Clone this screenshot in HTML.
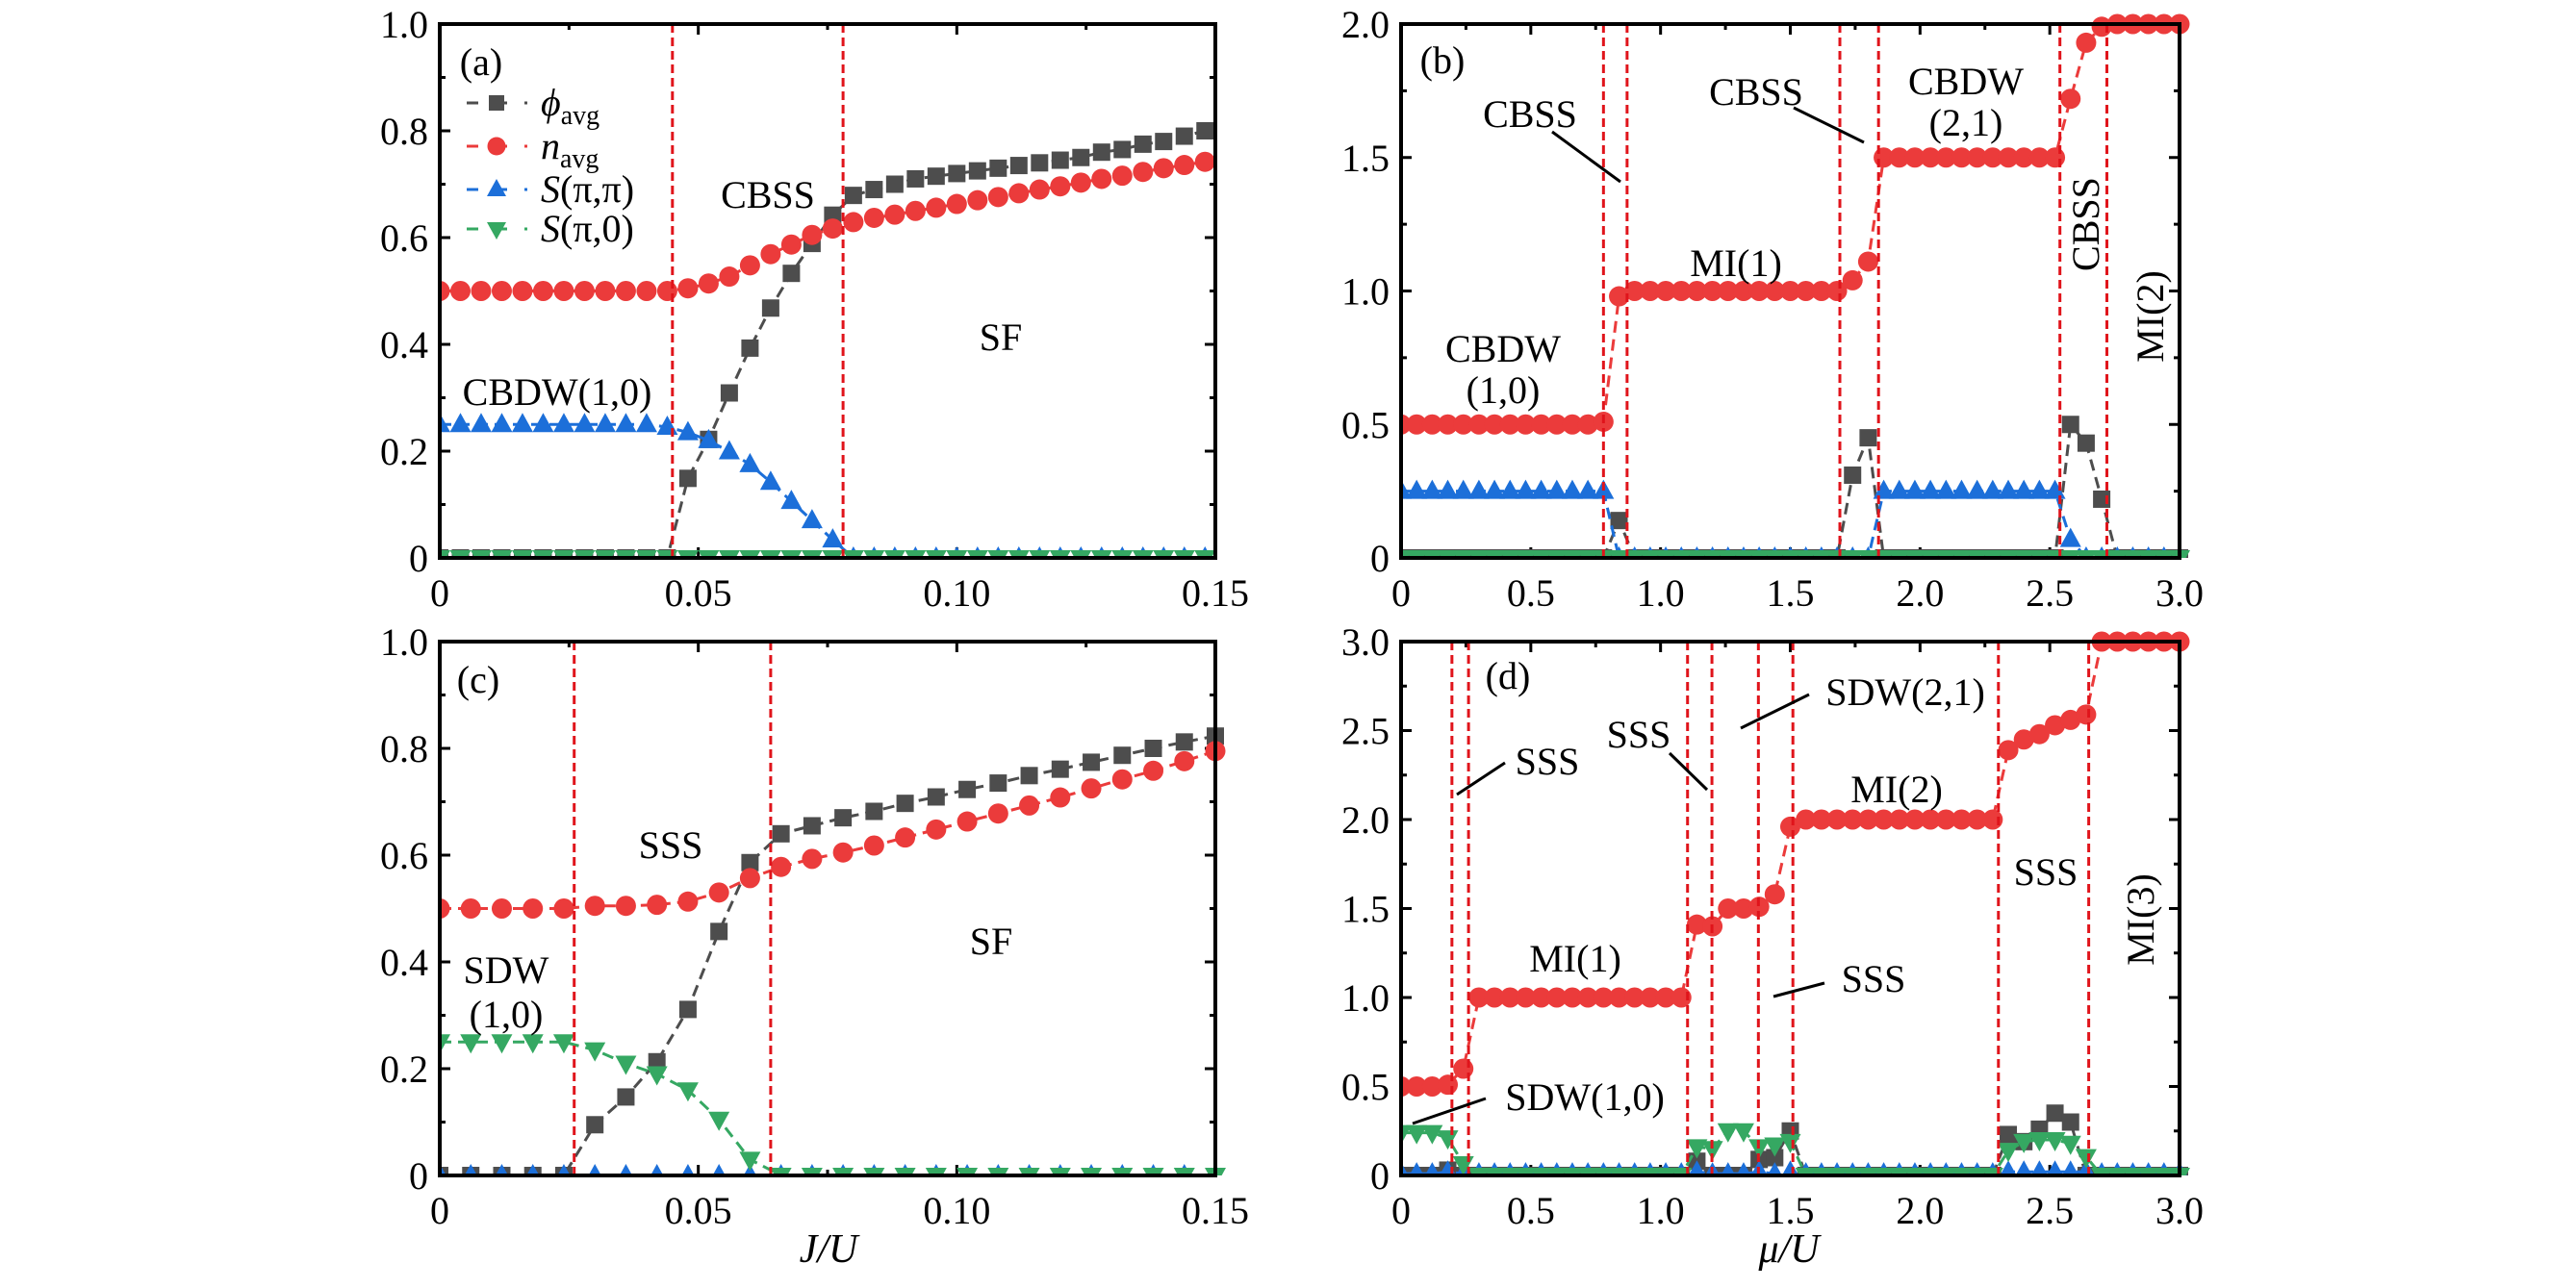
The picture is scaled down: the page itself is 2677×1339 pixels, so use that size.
<!DOCTYPE html>
<html><head><meta charset="utf-8"><style>
html,body{margin:0;padding:0;background:#fff;}
svg{display:block;font-family:"Liberation Serif",serif;}
text{font-family:"Liberation Serif",serif;}
</style></head><body>
<svg id="fig" width="2677" height="1339" viewBox="0 0 2677 1339" xmlns="http://www.w3.org/2000/svg" font-family="Liberation Serif, serif"></svg>
<script>
// ---------- Panel (a) data ----------
const xA = [0,0.004,0.008,0.012,0.016,0.020,0.024,0.028,0.032,0.036,0.040,0.044,0.048,0.052,0.056,0.060,0.064,0.068,0.072,0.076,0.080,0.084,0.088,0.092,0.096,0.100,0.104,0.108,0.112,0.116,0.120,0.124,0.128,0.132,0.136,0.140,0.144,0.148];
const phiA = [0,0,0,0,0,0,0,0,0,0,0,0,0.149,0.222,0.309,0.393,0.468,0.533,0.589,0.642,0.679,0.69,0.70,0.71,0.715,0.72,0.725,0.73,0.735,0.74,0.745,0.75,0.76,0.765,0.775,0.78,0.79,0.80];
const nA = [0.5,0.5,0.5,0.5,0.5,0.5,0.5,0.5,0.5,0.5,0.5,0.5,0.505,0.514,0.527,0.548,0.569,0.587,0.605,0.617,0.629,0.637,0.643,0.65,0.656,0.663,0.67,0.676,0.683,0.69,0.696,0.703,0.71,0.716,0.723,0.73,0.736,0.742];
const sppA = [0.25,0.25,0.25,0.25,0.25,0.25,0.25,0.25,0.25,0.25,0.25,0.245,0.235,0.22,0.199,0.175,0.142,0.106,0.07,0.034,0,0,0,0,0,0,0,0,0,0,0,0,0,0,0,0,0,0];
const sp0A = [0,0,0,0,0,0,0,0,0,0,0,0,0,0,0,0,0,0,0,0,0,0,0,0,0,0,0,0,0,0,0,0,0,0,0,0,0,0];
const linesA = [0.045,0.078];

// ---------- Panel (b) data ----------
const xB = [0,0.06,0.12,0.18,0.24,0.30,0.36,0.42,0.48,0.54,0.60,0.66,0.72,0.78,0.84,0.90,0.96,1.02,1.08,1.14,1.20,1.26,1.32,1.38,1.44,1.50,1.56,1.62,1.68,1.74,1.80,1.86,1.92,1.98,2.04,2.10,2.16,2.22,2.28,2.34,2.40,2.46,2.52,2.58,2.64,2.70,2.76,2.82,2.88,2.94,3.00];
const nB = [0.5,0.5,0.5,0.5,0.5,0.5,0.5,0.5,0.5,0.5,0.5,0.5,0.5,0.51,0.98,1,1,1,1,1,1,1,1,1,1,1,1,1,1,1.04,1.11,1.5,1.5,1.5,1.5,1.5,1.5,1.5,1.5,1.5,1.5,1.5,1.5,1.72,1.93,1.99,2,2,2,2,2];
const phiB = [0,0,0,0,0,0,0,0,0,0,0,0,0,0,0.14,0,0,0,0,0,0,0,0,0,0,0,0,0,0,0.31,0.45,0,0,0,0,0,0,0,0,0,0,0,0,0.50,0.43,0.22,0,0,0,0,0];
const sppB = [0.25,0.25,0.25,0.25,0.25,0.25,0.25,0.25,0.25,0.25,0.25,0.25,0.25,0.25,0,0,0,0,0,0,0,0,0,0,0,0,0,0,0,0,0,0.25,0.25,0.25,0.25,0.25,0.25,0.25,0.25,0.25,0.25,0.25,0.25,0.07,0,0,0,0,0,0,0];
const sp0B = [0,0,0,0,0,0,0,0,0,0,0,0,0,0,0,0,0,0,0,0,0,0,0,0,0,0,0,0,0,0,0,0,0,0,0,0,0,0,0,0,0,0,0,0,0,0,0,0,0,0,0];
const linesB = [0.78,0.871,1.691,1.84,2.539,2.72];

// ---------- Panel (c) data ----------
const xC = [0,0.006,0.012,0.018,0.024,0.030,0.036,0.042,0.048,0.054,0.060,0.066,0.072,0.078,0.084,0.090,0.096,0.102,0.108,0.114,0.120,0.126,0.132,0.138,0.144,0.150];
const phiC = [0,0,0,0,0,0.095,0.147,0.213,0.311,0.457,0.586,0.64,0.655,0.67,0.682,0.697,0.709,0.723,0.735,0.749,0.761,0.774,0.787,0.80,0.812,0.823];
const nC = [0.5,0.5,0.5,0.5,0.5,0.505,0.505,0.507,0.513,0.53,0.557,0.578,0.593,0.605,0.618,0.633,0.648,0.663,0.678,0.693,0.708,0.725,0.742,0.758,0.776,0.795];
const sppC = [0,0,0,0,0,0,0,0,0,0,0,0,0,0,0,0,0,0,0,0,0,0,0,0,0,0];
const sp0C = [0.25,0.25,0.25,0.25,0.25,0.235,0.21,0.19,0.16,0.105,0.03,0,0,0,0,0,0,0,0,0,0,0,0,0,0,0];
const linesC = [0.026,0.064];

// ---------- Panel (d) data ----------
const xD = xB.slice();
const nD = [0.5,0.5,0.5,0.51,0.6,1,1,1,1,1,1,1,1,1,1,1,1,1,1,1.41,1.40,1.5,1.5,1.51,1.58,1.96,2,2,2,2,2,2,2,2,2,2,2,2,2,2.39,2.45,2.48,2.53,2.56,2.59,3,3,3,3,3,3];
const phiD = [0,0,0,0.03,0,0,0,0,0,0,0,0,0,0,0,0,0,0,0,0.08,0,0,0,0.09,0.10,0.25,0,0,0,0,0,0,0,0,0,0,0,0,0,0.23,0.19,0.26,0.35,0.30,0,0,0,0,0,0,0];
const sppD = [0.01,0.01,0.01,0.02,0.01,0.01,0.01,0.01,0.01,0.01,0.01,0.01,0.01,0.01,0.01,0.01,0.01,0.01,0.01,0.02,0.01,0.01,0.01,0.02,0.01,0.02,0.01,0.01,0.01,0.01,0.01,0.01,0.01,0.01,0.01,0.01,0.01,0.01,0.01,0.02,0.02,0.02,0.02,0.02,0.02,0.01,0.01,0.01,0.01,0.01,0.01];
const sp0D = [0.24,0.24,0.24,0.21,0.065,0,0,0,0,0,0,0,0,0,0,0,0,0,0,0.16,0.15,0.25,0.25,0.16,0.17,0.19,0,0,0,0,0,0,0,0,0,0,0,0,0,0.14,0.19,0.20,0.20,0.18,0.105,0,0,0,0,0,0];
const linesD = [0.196,0.26,1.104,1.198,1.377,1.51,2.302,2.65];

// ---------- Tick labels ----------
const ticksXA = ["0","0.05","0.10","0.15"];
const ticksXB = ["0","0.5","1.0","1.5","2.0","2.5","3.0"];
const ticksYA = ["0","0.2","0.4","0.6","0.8","1.0"];
const ticksYB = ["0","0.5","1.0","1.5","2.0"];
const ticksYD = ["0","0.5","1.0","1.5","2.0","2.5","3.0"];

const NS = "http://www.w3.org/2000/svg";
const svg = document.getElementById('fig');
const FONT = "Liberation Serif, serif";
const COL = {phi:'#4d4d4d', n:'#eb3b3b', spp:'#1c6fd9', sp0:'#35a862', vline:'#e0141b'};

function mk(tag, attrs, parent){
  const e = document.createElementNS(NS, tag);
  for (const k in attrs) e.setAttribute(k, attrs[k]);
  if (tag === 'text') e.setAttribute('font-family', FONT);
  (parent||svg).appendChild(e);
  return e;
}

function panel(id, box, xmax, ymax, xStep, xMinor, yStep, yMinor, xt, yt, lines, series){
  const g = mk('g', {});
  
  
  const X = v => box.x0 + (v / xmax) * (box.x1 - box.x0);
  const Y = v => box.y1 - (v / ymax) * (box.y1 - box.y0);
  const tg = mk('g', {stroke:'#000','stroke-width':3}, g);
  
  
  for (let v = 0; v <= xmax + 1e-9; v += xMinor) {
    const major = Math.abs(Math.round(v / xStep) * xStep - v) < 1e-9;
    const L = major ? 11 : 6;
    mk('line', {x1:X(v), x2:X(v), y1:box.y1, y2:box.y1 - L}, tg);
    mk('line', {x1:X(v), x2:X(v), y1:box.y0, y2:box.y0 + L}, tg);
  }
  for (let v = 0; v <= ymax + 1e-9; v += yMinor) {
    const major = Math.abs(Math.round(v / yStep) * yStep - v) < 1e-9;
    const L = major ? 11 : 6;
    mk('line', {x1:box.x0, x2:box.x0 + L, y1:Y(v), y2:Y(v)}, tg);
    mk('line', {x1:box.x1, x2:box.x1 - L, y1:Y(v), y2:Y(v)}, tg);
  }
  xt.forEach((t, i) => {
    const e = mk('text', {x:X(i * xStep), y:box.y1 + 50, 'font-size':40, 'text-anchor':'middle'}, g);
    
    
    e.textContent = t;
  });
  yt.forEach((t, i) => {
    const e = mk('text', {x:box.x0 - 12, y:Y(i * yStep) + 14, 'font-size':40, 'text-anchor':'end'}, g);
    
    
    e.textContent = t;
  });
  const cp = mk('clipPath', {id:'clip' + id}, g);
  mk('rect', {x:box.x0, y:box.y0 - 20, width:box.x1 - box.x0 + 12, height:box.y1 - box.y0 + 20}, cp);
  const dg = mk('g', {'clip-path':'url(#clip' + id + ')'}, g);
  series.forEach(s => {
    const sg = mk('g', {}, dg);
    
    
    const pts = s.xs.map((x, i) => X(x) + ',' + Y(s.ys[i])).join(' ');
    const pl = mk('polyline', {points:pts, fill:'none', stroke:s.col, 'stroke-width':3, 'stroke-dasharray':'12,7'}, sg);
    
    
    s.xs.forEach((x, i) => {
      const cx = X(x), cy = Y(s.ys[i]);
      let m;
      if (s.shape === 'sq') m = mk('rect', {x:cx - 9, y:cy - 9, width:18, height:18, fill:s.col}, sg);
      else if (s.shape === 'ci') m = mk('circle', {cx:cx, cy:cy, r:10.5, fill:s.col}, sg);
      else if (s.shape === 'up') m = mk('polygon', {points:(cx-11)+','+(cy+8)+' '+(cx+11)+','+(cy+8)+' '+cx+','+(cy-12), fill:s.col}, sg);
      else m = mk('polygon', {points:(cx-11)+','+(cy-8)+' '+(cx+11)+','+(cy-8)+' '+cx+','+(cy+12), fill:s.col}, sg);
      
      
    });
  });
  // mask markers below the x-axis
  mk('rect', {x:box.x0 - 12, y:box.y1, width:box.x1 - box.x0 + 24, height:20, fill:'#fff'}, g);
  lines.forEach(v => {
    const l = mk('line', {x1:X(v), x2:X(v), y1:box.y0, y2:box.y1, stroke:COL.vline, 'stroke-width':3, 'stroke-dasharray':'9,5'}, g);
    
    
  });
  const fr = mk('rect', {x:box.x0, y:box.y0, width:box.x1 - box.x0, height:box.y1 - box.y0, fill:'none', stroke:'#000', 'stroke-width':4}, g);
  
  
}

function S(xs, phi, n, spp, sp0){
  return [
    {name:'phi-avg', xs:xs, ys:phi, col:COL.phi, shape:'sq'},
    {name:'s-pi-pi', xs:xs, ys:spp, col:COL.spp, shape:'up'},
    {name:'s-pi-0', xs:xs, ys:sp0, col:COL.sp0, shape:'dn'},
    {name:'n-avg', xs:xs, ys:n, col:COL.n, shape:'ci'}
  ];
}

const bA = {x0:457, x1:1263, y0:25, y1:580};
const bB = {x0:1456, x1:2265, y0:25, y1:580};
const bC = {x0:457, x1:1263, y0:667, y1:1222};
const bD = {x0:1456, x1:2265, y0:667, y1:1222};
panel('a', bA, 0.15, 1.0, 0.05, 0.025, 0.2, 0.1, ticksXA, ticksYA, linesA, S(xA, phiA, nA, sppA, sp0A));
panel('b', bB, 3.0, 2.0, 0.5, 0.25, 0.5, 0.25, ticksXB, ticksYB, linesB, S(xB, phiB, nB, sppB, sp0B));
panel('c', bC, 0.15, 1.0, 0.05, 0.025, 0.2, 0.1, ticksXA, ticksYA, linesC, S(xC, phiC, nC, sppC, sp0C));
panel('d', bD, 3.0, 3.0, 0.5, 0.25, 0.5, 0.25, ticksXB, ticksYD, linesD, S(xD, phiD, nD, sppD, sp0D));

function txt(s, x, y, name, rot){
  const e = mk('text', {x:x, y:y + 14, 'font-size':40, 'text-anchor':'middle'});
  if (rot) e.setAttribute('transform', 'rotate(-90 ' + x + ' ' + y + ')');
  
  
  e.textContent = s;
  return e;
}
function lead(x1, y1, x2, y2){
  const l = mk('line', {x1:x1, y1:y1, x2:x2, y2:y2, stroke:'#000', 'stroke-width':3});
  
  
}
txt('(a)', 500, 64, 'panel-label-a');
txt('CBSS', 798, 202, 'phase-label-cbss');
txt('SF', 1040, 350, 'phase-label-sf');
txt('CBDW(1,0)', 579, 407, 'phase-label-cbdw');
txt('(b)', 1499, 62, 'panel-label-b');
txt('CBSS', 1590, 118, 'phase-label-cbss'); lead(1613, 137, 1684, 189);
txt('CBSS', 1825, 95, 'phase-label-cbss'); lead(1864, 112, 1937, 148);
txt('CBDW', 2043, 84, 'phase-label-cbdw'); txt('(2,1)', 2043, 127, 'phase-label-cbdw-index');
txt('MI(1)', 1804, 273, 'phase-label-mi1');
txt('CBDW', 1562, 362, 'phase-label-cbdw'); txt('(1,0)', 1562, 405, 'phase-label-cbdw-index');
txt('CBSS', 2167, 233, 'phase-label-cbss', true);
txt('MI(2)', 2234, 329, 'phase-label-mi2', true);
txt('(c)', 497, 706, 'panel-label-c');
txt('SSS', 697, 878, 'phase-label-sss');
txt('SF', 1030, 978, 'phase-label-sf');
txt('SDW', 526, 1008, 'phase-label-sdw'); txt('(1,0)', 526, 1054, 'phase-label-sdw-index');
txt('(d)', 1567, 702, 'panel-label-d');
txt('SSS', 1608, 791, 'phase-label-sss'); lead(1564, 793, 1514, 826);
txt('SSS', 1703, 763, 'phase-label-sss'); lead(1735, 783, 1774, 821);
txt('SDW(2,1)', 1980, 719, 'phase-label-sdw21'); lead(1880, 722, 1809, 757);
txt('MI(2)', 1971, 820, 'phase-label-mi2');
txt('MI(1)', 1637, 996, 'phase-label-mi1');
txt('SSS', 1947, 1017, 'phase-label-sss'); lead(1896, 1022, 1843, 1036);
txt('SSS', 2126, 906, 'phase-label-sss');
txt('MI(3)', 2224, 956, 'phase-label-mi3', true);
txt('SDW(1,0)', 1647, 1140, 'phase-label-sdw10'); lead(1544, 1142, 1468, 1168);

const xt1 = mk('text', {x:861, y:1312, 'font-size':42, 'text-anchor':'middle', 'font-style':'italic'});


xt1.textContent = 'J/U';
const xt2 = mk('text', {x:1859, y:1312, 'font-size':42, 'text-anchor':'middle', 'font-style':'italic'});


xt2.textContent = 'μ/U';

const legend = [
  {col:COL.phi, shape:'sq', main:'ϕ', sub:'avg', y:107},
  {col:COL.n, shape:'ci', main:'n', sub:'avg', y:152},
  {col:COL.spp, shape:'up', main:'S', rest:'(π,π)', y:197},
  {col:COL.sp0, shape:'dn', main:'S', rest:'(π,0)', y:238}
];
legend.forEach(L => {
  const g = mk('g', {});
  
  
  mk('line', {x1:485, x2:548, y1:L.y, y2:L.y, stroke:L.col, 'stroke-width':3, 'stroke-dasharray':'12,18'}, g);
  const cx = 516, cy = L.y;
  if (L.shape === 'sq') mk('rect', {x:cx-8, y:cy-8, width:16, height:16, fill:L.col}, g);
  else if (L.shape === 'ci') mk('circle', {cx:cx, cy:cy, r:9.5, fill:L.col}, g);
  else if (L.shape === 'up') mk('polygon', {points:(cx-10)+','+(cy+7)+' '+(cx+10)+','+(cy+7)+' '+cx+','+(cy-11), fill:L.col}, g);
  else mk('polygon', {points:(cx-10)+','+(cy-7)+' '+(cx+10)+','+(cy-7)+' '+cx+','+(cy+11), fill:L.col}, g);
  const t = mk('text', {x:562, y:L.y + 13, 'font-size':40}, g);
  const a = mk('tspan', {'font-style':'italic'}, t); a.textContent = L.main;
  if (L.sub) { const b = mk('tspan', {'font-size':28, dy:9}, t); b.textContent = L.sub; }
  else { const b = mk('tspan', {}, t); b.textContent = L.rest; }
});
</script>
</body></html>
